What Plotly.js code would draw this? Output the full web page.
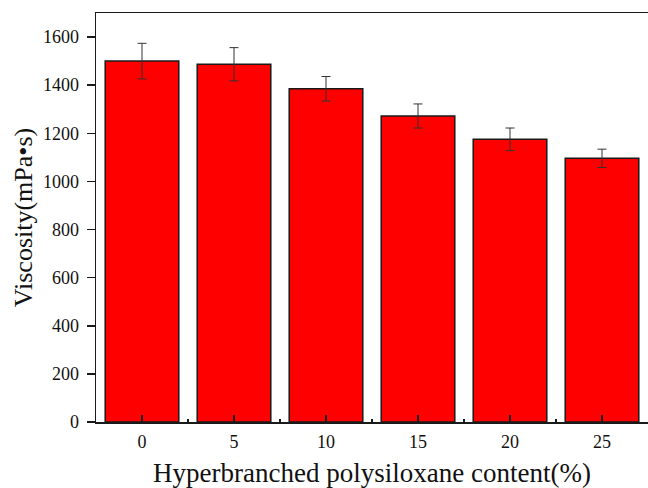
<!DOCTYPE html>
<html>
<head>
<meta charset="utf-8">
<script src="https://cdn.plot.ly/plotly-3.0.1.min.js"></script>
<style>html,body{margin:0;padding:0;background:#fff;}#chart{width:648px;height:488px;}</style>
</head>
<body>
<div id="chart"></div>
<script>
const categories = ['0', '5', '10', '15', '20', '25'];
const viscosity = [1500, 1487, 1385, 1272, 1175, 1096];
const viscosityError = [74, 69, 51, 50, 47, 38];
const yTickValues = [0, 200, 400, 600, 800, 1000, 1200, 1400, 1600];

const xPositions = categories.map((c, i) => i);

const trace = {
  type: 'bar',
  x: xPositions,
  y: viscosity,
  width: 0.8,
  marker: {color: '#ff0000', line: {color: '#1a1a1a', width: 1.5}},
  error_y: {type: 'data', array: viscosityError, visible: true, color: '#333333', thickness: 1, width: 4.5},
  hoverinfo: 'skip'
};

const fontFamily = '"Liberation Serif", "Times New Roman", serif';

const layout = {
  width: 648,
  height: 488,
  margin: {l: 96, r: 0, t: 13, b: 66, pad: 0},
  paper_bgcolor: '#ffffff',
  plot_bgcolor: '#ffffff',
  showlegend: false,
  font: {family: fontFamily, color: '#000000'},
  xaxis: {
    range: [-0.5, 5.5],
    tickmode: 'array',
    tickvals: xPositions,
    ticktext: categories,
    ticks: 'inside',
    ticklen: 7,
    tickwidth: 1.5,
    tickcolor: '#1a1a1a',
    showline: true,
    linecolor: '#1a1a1a',
    linewidth: 1.5,
    mirror: true,
    showgrid: false,
    zeroline: false,
    ticklabelstandoff: 3,
    tickfont: {family: fontFamily, size: 18, color: '#111'},
    minor: {tickmode: 'linear', tick0: 0.5, dtick: 1, ticks: 'inside', ticklen: 3, tickwidth: 1.5, tickcolor: '#1a1a1a', showgrid: false},
    title: {text: 'Hyperbranched polysiloxane content(%)', font: {family: fontFamily, size: 27, color: '#111'}, standoff: 19}
  },
  yaxis: {
    range: [0, 1700],
    tickmode: 'array',
    tickvals: yTickValues,
    ticks: 'outside',
    ticklen: 8,
    tickwidth: 1.5,
    tickcolor: '#1a1a1a',
    showline: true,
    linecolor: '#1a1a1a',
    linewidth: 1.5,
    mirror: true,
    showgrid: false,
    zeroline: false,
    ticklabelstandoff: 4,
    tickfont: {family: fontFamily, size: 18, color: '#111'},
    title: {text: 'Viscosity(mPa•s)', font: {family: fontFamily, size: 26, color: '#111'}, standoff: 3}
  }
};

Plotly.newPlot('chart', [trace], layout, {staticPlot: true, displayModeBar: false});
</script>
</body>
</html>
